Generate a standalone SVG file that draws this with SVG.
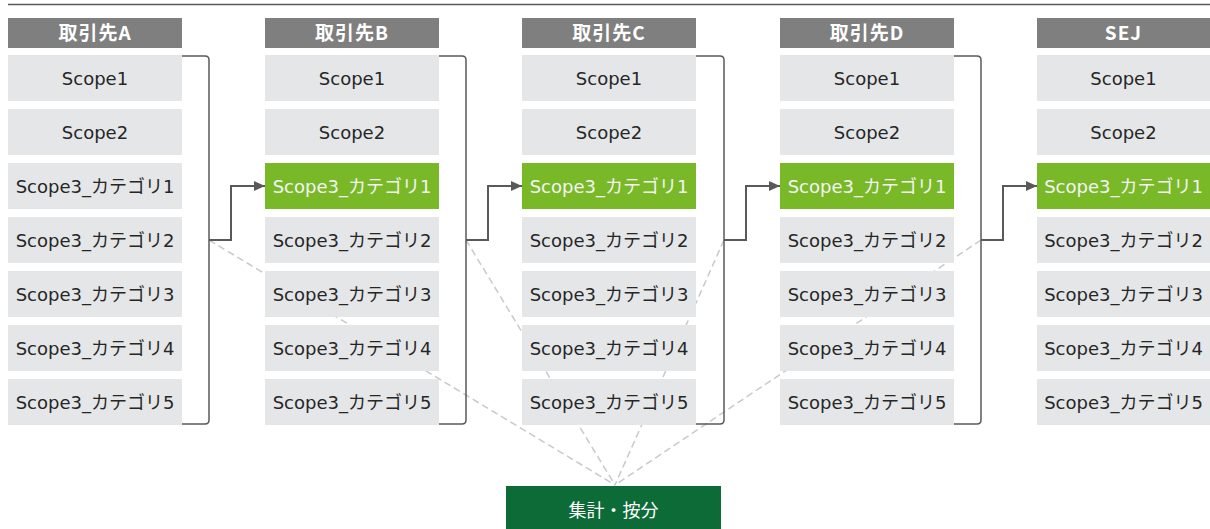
<svg xmlns="http://www.w3.org/2000/svg" width="1210" height="529" viewBox="0 0 1210 529">
<defs>
<marker id="ah" markerUnits="userSpaceOnUse" markerWidth="12" markerHeight="12" viewBox="0 0 12 12" refX="11" refY="6" orient="auto">
<path d="M0,1 L11,6 L0,11 Z" fill="#595959"/>
</marker>
<style>
.hd{fill:#7f7f7f}
.ht{fill:#ffffff;font-family:"Noto Sans CJK JP","DejaVu Sans",sans-serif;font-weight:bold;font-size:19px;text-anchor:middle;letter-spacing:1px}
.bx{fill:#e5e6e8}
.gr{fill:#79b928}
.t{fill:#262626;font-family:"DejaVu Sans","Noto Sans CJK JP",sans-serif;font-size:18px;text-anchor:middle}
.tw{fill:#f4f4f4;font-family:"DejaVu Sans","Noto Sans CJK JP",sans-serif;font-size:18px;text-anchor:middle}
.br{fill:none;stroke:#595959;stroke-width:1.5}
.ar{fill:none;stroke:#595959;stroke-width:2}
.ds{fill:none;stroke:#c9c9c9;stroke-width:1.5;stroke-dasharray:7 4}
</style>
</defs>
<rect width="1210" height="529" fill="#ffffff"/>
<line x1="8" y1="4.5" x2="1210" y2="4.5" stroke="#595959" stroke-width="1.5"/>
<g id="connectors">
<line class="ds" x1="209" y1="240" x2="615" y2="485"/>
<line class="ds" x1="466" y1="240" x2="615" y2="485"/>
<line class="ds" x1="724" y1="240" x2="615" y2="485"/>
<line class="ds" x1="981" y1="240" x2="615" y2="485"/>
<path class="br" d="M182,56 H205 Q209,56 209,60 V420 Q209,424 205,424 H182"/>
<path class="br" d="M439,56 H462 Q466,56 466,60 V420 Q466,424 462,424 H439"/>
<path class="br" d="M696,56 H720 Q724,56 724,60 V420 Q724,424 720,424 H696"/>
<path class="br" d="M954,56 H977 Q981,56 981,60 V420 Q981,424 977,424 H954"/>
<path class="ar" d="M209,240 H231 V186 H265" marker-end="url(#ah)"/>
<path class="ar" d="M466,240 H488 V186 H522" marker-end="url(#ah)"/>
<path class="ar" d="M724,240 H746 V186 H780" marker-end="url(#ah)"/>
<path class="ar" d="M981,240 H1003 V186 H1037" marker-end="url(#ah)"/>
</g>
<g id="colA">
<rect class="hd" x="8" y="18" width="174" height="30"/><text class="ht" x="95" y="40">取引先A</text>
<rect class="bx" x="8" y="55" width="174" height="46"/><text class="t" x="95" y="84.5">Scope1</text>
<rect class="bx" x="8" y="109" width="174" height="46"/><text class="t" x="95" y="138.5">Scope2</text>
<rect class="bx" x="8" y="163" width="174" height="46"/><text class="t" x="95" y="192.5">Scope3_カテゴリ1</text>
<rect class="bx" x="8" y="217" width="174" height="46"/><text class="t" x="95" y="246.5">Scope3_カテゴリ2</text>
<rect class="bx" x="8" y="271" width="174" height="46"/><text class="t" x="95" y="300.5">Scope3_カテゴリ3</text>
<rect class="bx" x="8" y="325" width="174" height="46"/><text class="t" x="95" y="354.5">Scope3_カテゴリ4</text>
<rect class="bx" x="8" y="379" width="174" height="46"/><text class="t" x="95" y="408.5">Scope3_カテゴリ5</text>
</g>
<g id="colB">
<rect class="hd" x="265" y="18" width="174" height="30"/><text class="ht" x="352" y="40">取引先B</text>
<rect class="bx" x="265" y="55" width="174" height="46"/><text class="t" x="352" y="84.5">Scope1</text>
<rect class="bx" x="265" y="109" width="174" height="46"/><text class="t" x="352" y="138.5">Scope2</text>
<rect class="gr" x="265" y="163" width="174" height="46"/><text class="tw" x="352" y="192.5">Scope3_カテゴリ1</text>
<rect class="bx" x="265" y="217" width="174" height="46"/><text class="t" x="352" y="246.5">Scope3_カテゴリ2</text>
<rect class="bx" x="265" y="271" width="174" height="46"/><text class="t" x="352" y="300.5">Scope3_カテゴリ3</text>
<rect class="bx" x="265" y="325" width="174" height="46"/><text class="t" x="352" y="354.5">Scope3_カテゴリ4</text>
<rect class="bx" x="265" y="379" width="174" height="46"/><text class="t" x="352" y="408.5">Scope3_カテゴリ5</text>
</g>
<g id="colC">
<rect class="hd" x="522" y="18" width="174" height="30"/><text class="ht" x="609" y="40">取引先C</text>
<rect class="bx" x="522" y="55" width="174" height="46"/><text class="t" x="609" y="84.5">Scope1</text>
<rect class="bx" x="522" y="109" width="174" height="46"/><text class="t" x="609" y="138.5">Scope2</text>
<rect class="gr" x="522" y="163" width="174" height="46"/><text class="tw" x="609" y="192.5">Scope3_カテゴリ1</text>
<rect class="bx" x="522" y="217" width="174" height="46"/><text class="t" x="609" y="246.5">Scope3_カテゴリ2</text>
<rect class="bx" x="522" y="271" width="174" height="46"/><text class="t" x="609" y="300.5">Scope3_カテゴリ3</text>
<rect class="bx" x="522" y="325" width="174" height="46"/><text class="t" x="609" y="354.5">Scope3_カテゴリ4</text>
<rect class="bx" x="522" y="379" width="174" height="46"/><text class="t" x="609" y="408.5">Scope3_カテゴリ5</text>
</g>
<g id="colD">
<rect class="hd" x="780" y="18" width="174" height="30"/><text class="ht" x="867" y="40">取引先D</text>
<rect class="bx" x="780" y="55" width="174" height="46"/><text class="t" x="867" y="84.5">Scope1</text>
<rect class="bx" x="780" y="109" width="174" height="46"/><text class="t" x="867" y="138.5">Scope2</text>
<rect class="gr" x="780" y="163" width="174" height="46"/><text class="tw" x="867" y="192.5">Scope3_カテゴリ1</text>
<rect class="bx" x="780" y="217" width="174" height="46"/><text class="t" x="867" y="246.5">Scope3_カテゴリ2</text>
<rect class="bx" x="780" y="271" width="174" height="46"/><text class="t" x="867" y="300.5">Scope3_カテゴリ3</text>
<rect class="bx" x="780" y="325" width="174" height="46"/><text class="t" x="867" y="354.5">Scope3_カテゴリ4</text>
<rect class="bx" x="780" y="379" width="174" height="46"/><text class="t" x="867" y="408.5">Scope3_カテゴリ5</text>
</g>
<g id="colSEJ">
<rect class="hd" x="1037" y="18" width="173" height="30"/><text class="ht" x="1123.5" y="40">SEJ</text>
<rect class="bx" x="1037" y="55" width="173" height="46"/><text class="t" x="1123.5" y="84.5">Scope1</text>
<rect class="bx" x="1037" y="109" width="173" height="46"/><text class="t" x="1123.5" y="138.5">Scope2</text>
<rect class="gr" x="1037" y="163" width="173" height="46"/><text class="tw" x="1123.5" y="192.5">Scope3_カテゴリ1</text>
<rect class="bx" x="1037" y="217" width="173" height="46"/><text class="t" x="1123.5" y="246.5">Scope3_カテゴリ2</text>
<rect class="bx" x="1037" y="271" width="173" height="46"/><text class="t" x="1123.5" y="300.5">Scope3_カテゴリ3</text>
<rect class="bx" x="1037" y="325" width="173" height="46"/><text class="t" x="1123.5" y="354.5">Scope3_カテゴリ4</text>
<rect class="bx" x="1037" y="379" width="173" height="46"/><text class="t" x="1123.5" y="408.5">Scope3_カテゴリ5</text>
</g>
<g id="aggregate">
<rect x="506" y="486" width="215" height="43" fill="#0d6b38"/>
<text x="613.5" y="516.5" fill="#ffffff" font-family="'Noto Sans CJK JP',sans-serif" font-size="18" text-anchor="middle">集計・按分</text>
</g>
</svg>
